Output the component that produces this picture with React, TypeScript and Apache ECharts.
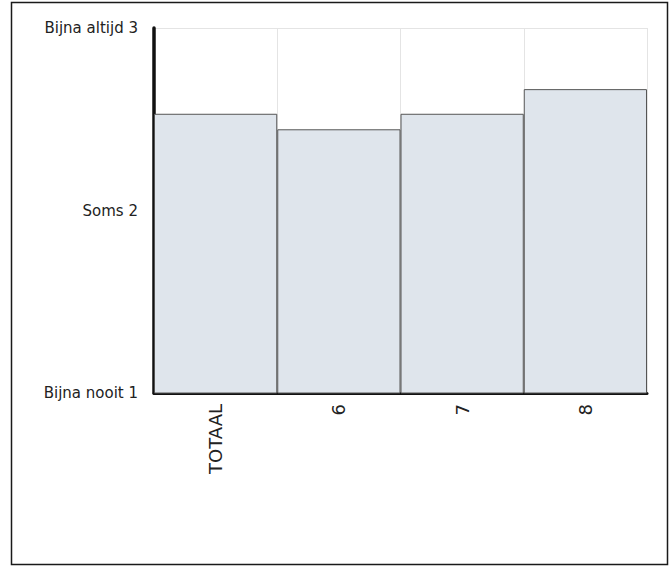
import React, { useEffect, useRef } from "react";
import * as echarts from "echarts";

const categories = ["TOTAAL", "6", "7", "8"];
const values = [2.53, 2.445, 2.53, 2.665];
const yTickLabels: Record<number, string> = {
  1: "Bijna nooit 1",
  2: "Soms 2",
  3: "Bijna altijd 3",
};

export default function App() {
  const ref = useRef<HTMLDivElement>(null);
  useEffect(() => {
    document.body.style.margin = "0";
    const chart = echarts.init(ref.current!, null, { renderer: "svg" });
    chart.setOption({
      animation: false,
      backgroundColor: "#ffffff",
      textStyle: { fontFamily: "DejaVu Sans, Verdana, sans-serif" },
      graphic: [
        {
          type: "rect",
          shape: { x: 11.5, y: 2.5, width: 656, height: 562 },
          style: { fill: "none", stroke: "#1a1a1a", lineWidth: 1.5 },
          z: 100,
        },
      ],
      grid: { left: 154, top: 28, right: 25, bottom: 174, containLabel: false },
      xAxis: {
        type: "category",
        data: categories,
        boundaryGap: true,
        axisLine: { show: true, lineStyle: { color: "#111", width: 3 } },
        axisTick: { show: false },
        splitLine: { show: true, lineStyle: { color: "#e4e4e4", width: 1 } },
        axisLabel: {
          rotate: 90,
          margin: 11,
          color: "#222",
          fontSize: 18,
          interval: 0,
        },
      },
      yAxis: {
        type: "value",
        min: 1,
        max: 3,
        interval: 1,
        axisLine: { show: true, lineStyle: { color: "#111", width: 3.5 } },
        axisTick: { show: false },
        splitLine: { show: true, lineStyle: { color: "#e4e4e4", width: 1 } },
        axisLabel: {
          margin: 16,
          color: "#222",
          fontSize: 15,
          formatter: (v: number) => yTickLabels[v] ?? "",
        },
      },
      series: [
        {
          type: "bar",
          data: values,
          barCategoryGap: "0%",
          itemStyle: { color: "#dfe5ec", borderColor: "#555", borderWidth: 1 },
        },
      ],
    });
    return () => chart.dispose();
  }, []);
  return (
    <div
      ref={ref}
      style={{ position: "fixed", left: 0, top: 0, width: 672, height: 567 }}
    />
  );
}
